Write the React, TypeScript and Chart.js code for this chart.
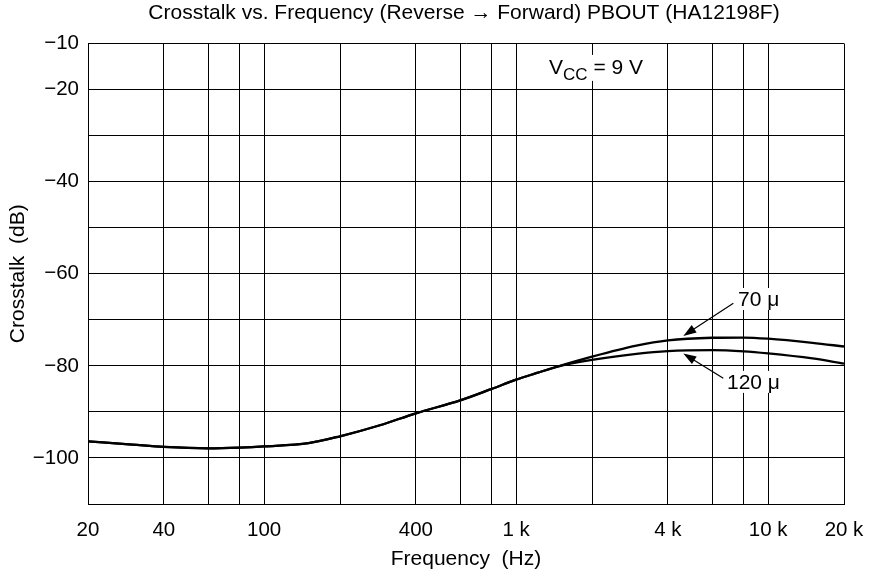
import React, { useEffect, useRef } from "react";
import { Chart, registerables } from "chart.js";

Chart.register(...registerables);

const FONT = "'Liberation Sans', Arial, Helvetica, sans-serif";

const chartTitle = "Crosstalk vs. Frequency (Reverse \u2192 Forward) PBOUT (HA12198F)";
const xAxisTitle = "Frequency  (Hz)";
const yAxisTitle = "Crosstalk  (dB)";

// Frequencies (Hz) at which the curves were read
const frequencies = [20, 30, 40, 60, 80, 100, 150, 200, 288, 400, 600, 800, 1000, 1200, 1450, 2000, 3000, 4000, 6000, 8000, 10000, 15000, 20000];
// Crosstalk (dB), 70 µs curve
const crosstalk70 = [-96.4, -97.1, -97.6, -97.9, -97.75, -97.5, -96.8, -95.3, -92.9, -90.3, -87.5, -85.0, -83.0, -81.6, -80.2, -78.0, -75.6, -74.45, -73.9, -73.85, -74.1, -75.0, -75.8];
// Crosstalk (dB), 120 µs curve
const crosstalk120 = [-96.4, -97.1, -97.6, -97.9, -97.75, -97.5, -96.8, -95.3, -92.9, -90.3, -87.5, -85.0, -83.0, -81.6, -80.2, -78.7, -77.4, -76.8, -76.6, -76.85, -77.3, -78.4, -79.5];

const xGridValues = [20, 40, 60, 80, 100, 200, 400, 600, 800, 1000, 2000, 4000, 6000, 8000, 10000, 20000];
const xLabelValues = [20, 40, 100, 400, 1000, 4000, 10000, 20000];
const xLabelTexts = ["20", "40", "100", "400", "1 k", "4 k", "10 k", "20 k"];

const yLabelValues = [-10, -20, -40, -60, -80, -100];
const yLabelTexts = ["\u221210", "\u221220", "\u221240", "\u221260", "\u221280", "\u2212100"];

const curveLabels = ["70 \u03bc", "120 \u03bc"];
const vccMain = "V";
const vccSub = "CC";
const vccRest = " = 9 V";

const annotationPlugin = {
  id: "annotations",
  afterDraw(chart: any) {
    const { ctx, chartArea } = chart;
    const xs = chart.scales.x;
    const ys = chart.scales.y;
    const px = (f: number) => xs.getPixelForValue(f);
    const py = (v: number) => ys.getPixelForValue(v);
    ctx.save();
    ctx.fillStyle = "#000";

    // Chart title, centred over the plot area
    ctx.font = `21px ${FONT}`;
    ctx.textAlign = "center";
    ctx.textBaseline = "middle";
    ctx.fillText(chartTitle, (chartArea.left + chartArea.right) / 2 - 2, chartArea.top - 30);

    ctx.textBaseline = "alphabetic";
    ctx.textAlign = "left";

    // V_CC label
    {
      const x0 = px(1350);
      const base = py(-16.6);
      ctx.font = `21px ${FONT}`;
      const wV = ctx.measureText(vccMain).width;
      ctx.font = `17px ${FONT}`;
      const wS = ctx.measureText(vccSub).width;
      ctx.font = `21px ${FONT}`;
      const wR = ctx.measureText(vccRest).width;
      ctx.fillStyle = "#fff";
      ctx.fillRect(x0 - 3, base - 19, wV + wS + wR + 6, 26);
      ctx.fillStyle = "#000";
      ctx.fillText(vccMain, x0, base);
      ctx.font = `17px ${FONT}`;
      ctx.fillText(vccSub, x0 + wV, base + 6);
      ctx.font = `21px ${FONT}`;
      ctx.fillText(vccRest, x0 + wV + wS, base);
    }

    const drawLabel = (text: string, f: number, v: number) => {
      const x0 = px(f);
      const base = py(v);
      ctx.font = `21px ${FONT}`;
      const w = ctx.measureText(text).width;
      ctx.fillStyle = "#fff";
      ctx.fillRect(x0 - 2, base - 18, w - 8, 22);
      ctx.fillStyle = "#000";
      ctx.fillText(text, x0, base);
    };

    const drawArrow = (f1: number, v1: number, f2: number, v2: number) => {
      const x1 = px(f1), y1 = py(v1), x2 = px(f2), y2 = py(v2);
      const ang = Math.atan2(y2 - y1, x2 - x1);
      const len = 13, hw = 4.5;
      ctx.strokeStyle = "#000";
      ctx.lineWidth = 1.2;
      ctx.beginPath();
      ctx.moveTo(x1, y1);
      ctx.lineTo(x2 - Math.cos(ang) * len * 0.8, y2 - Math.sin(ang) * len * 0.8);
      ctx.stroke();
      ctx.beginPath();
      ctx.moveTo(x2, y2);
      ctx.lineTo(x2 - Math.cos(ang) * len - Math.sin(ang) * hw, y2 - Math.sin(ang) * len + Math.cos(ang) * hw);
      ctx.lineTo(x2 - Math.cos(ang) * len + Math.sin(ang) * hw, y2 - Math.sin(ang) * len - Math.cos(ang) * hw);
      ctx.closePath();
      ctx.fillStyle = "#000";
      ctx.fill();
    };

    drawLabel(curveLabels[0], 7594, -67.0);
    drawLabel(curveLabels[1], 6866, -85.0);
    drawArrow(7276, -66.4, 4606, -73.5);
    drawArrow(6638, -82.7, 4606, -77.3);

    ctx.restore();
  },
};

export default function App() {
  const canvasRef = useRef<HTMLCanvasElement | null>(null);

  useEffect(() => {
    if (!canvasRef.current) return;
    const mk = (vals: number[]) => frequencies.map((f, i) => ({ x: f, y: vals[i] }));
    const lineStyle = {
      borderColor: "#000",
      borderWidth: 2.3,
      pointRadius: 0,
      fill: false,
      cubicInterpolationMode: "monotone",
    };
    const chart = new Chart(canvasRef.current, {
      type: "line",
      data: {
        datasets: [
          { label: "70 \u03bc", data: mk(crosstalk70), ...lineStyle },
          { label: "120 \u03bc", data: mk(crosstalk120), ...lineStyle },
        ],
      },
      options: {
        animation: false,
        responsive: false,
        layout: { padding: { left: 0, right: 29, top: 43.5, bottom: 0 } },
        plugins: {
          legend: { display: false },
          tooltip: { enabled: false },
          title: { display: false },
        },
        scales: {
          x: {
            type: "logarithmic",
            min: 20,
            max: 20000,
            afterBuildTicks: (scale: any) => {
              scale.ticks = xGridValues.map((v) => ({ value: v }));
            },
            afterFit: (scale: any) => {
              scale.height = 70;
              scale.paddingLeft = 0;
              scale.paddingRight = 0;
            },
            ticks: {
              autoSkip: false,
              maxRotation: 0,
              padding: 14,
              color: "#000",
              font: { family: FONT, size: 20.5 },
              callback: (value: any) => {
                const i = xLabelValues.indexOf(Number(value));
                return i >= 0 ? xLabelTexts[i] : "";
              },
            },
            grid: { color: "#000", lineWidth: 1, drawTicks: false },
            border: { color: "#000", width: 1 },
            title: {
              display: true,
              text: xAxisTitle,
              color: "#000",
              font: { family: FONT, size: 21 },
              padding: { top: 0, bottom: 2 },
            },
          },
          y: {
            type: "linear",
            min: -110,
            max: -10,
            afterFit: (scale: any) => {
              scale.width = 88;
            },
            ticks: {
              stepSize: 10,
              autoSkip: false,
              padding: 9,
              color: "#000",
              font: { family: FONT, size: 20.5 },
              callback: (value: any) => {
                const i = yLabelValues.indexOf(Number(value));
                return i >= 0 ? yLabelTexts[i] : "";
              },
            },
            grid: { color: "#000", lineWidth: 1, drawTicks: false },
            border: { color: "#000", width: 1 },
            title: {
              display: true,
              text: yAxisTitle,
              color: "#000",
              font: { family: FONT, size: 21 },
              padding: { top: 6, bottom: 0 },
            },
          },
        },
      },
      plugins: [annotationPlugin],
    } as any);
    return () => chart.destroy();
  }, []);

  return (
    <div style={{ position: "absolute", left: 0, top: 0, width: 873, height: 574, background: "#fff" }}>
      <canvas ref={canvasRef} width={873} height={574} style={{ width: 873, height: 574, display: "block" }} />
    </div>
  );
}
